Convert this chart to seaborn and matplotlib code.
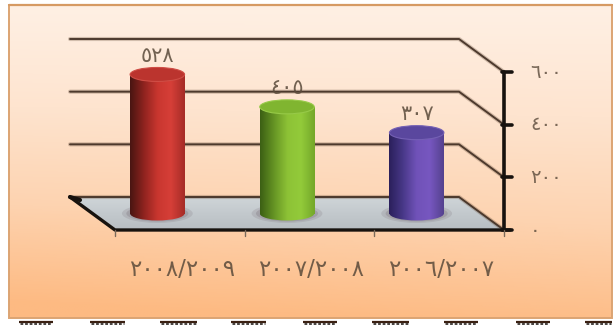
import numpy as np
import pandas as pd
import matplotlib
matplotlib.use("Agg")
import matplotlib.pyplot as plt
import seaborn as sns
from matplotlib.colors import LinearSegmentedColormap
from matplotlib.patches import Ellipse, Polygon, Rectangle

# data
seasons = ["٢٠٠٨/٢٠٠٩", "٢٠٠٧/٢٠٠٨", "٢٠٠٦/٢٠٠٧"]
values = [528, 405, 307]
value_labels = ["٥٢٨", "٤٠٥", "٣٠٧"]
y_ticks = [0, 200, 400, 600]
y_tick_labels = ["٠", "٢٠٠", "٤٠٠", "٦٠٠"]

W, H = 615, 325
TEXT = "#5a4a3a"

sns.set_theme(style="white")
plt.rcParams["font.family"] = ["DejaVu Sans"]

fig = plt.figure(figsize=(W / 100, H / 100), dpi=100, facecolor="white")


def px_axes(x0, y0, x1, y1):
    # axes from pixel box, y measured from the top of the image
    return fig.add_axes([x0 / W, 1 - y1 / H, (x1 - x0) / W, (y1 - y0) / H])


# ======================================
# Background panel
# ======================================

bg = fig.add_axes([0, 0, 1, 1], zorder=0)
bg.axis("off")

bg_cmap = LinearSegmentedColormap.from_list(
    "panel", ["#fff0e4", "#fee4cf", "#fdd3b0", "#fdba82"]
)
yy, xx = np.mgrid[0:1:120j, 0:1:200j]
bg.imshow(
    0.9 * yy + 0.1 * (1 - xx) * yy + 0.05 * np.abs(yy - 0.1),
    cmap=bg_cmap, extent=(9, 612, 318, 5), aspect="auto", vmin=0, vmax=1,
)
bg.set_xlim(0, W)
bg.set_ylim(H, 0)
bg.add_patch(Rectangle((9, 5), 603, 313, fill=False, ec="#dca473", lw=1.4))
bg.plot([9, 612], [4.5, 4.5], color="#d69a63", lw=1.6)

# torn dark marks under the panel
for x0, x1 in [(19, 53), (90, 125), (160, 197), (231, 266), (303, 337),
               (372, 409), (444, 478), (516, 550), (585, 612)]:
    bg.plot([x0, x1], [321.5, 321.5], color="#3a2012", lw=1.6,
            solid_capstyle="butt")
    bg.plot([x0 + 1, x1 - 1], [323.8, 323.8], color="#4a4542", lw=2.2,
            ls=(0, (0.9, 0.6)))

# ======================================
# Floor and back wall
# ======================================

DX, DY = 45, 33
LEFT, RIGHT = 115, 504
Y0, Y600 = 230, 72
px_per_unit = (Y0 - Y600) / 600
DARK = "#17120e"

floor_cmap = LinearSegmentedColormap.from_list("floor", ["#cfd5d8", "#b7bdc2"])
floor_img = bg.imshow(
    np.linspace(0, 1, 32)[:, None], cmap=floor_cmap, aspect="auto",
    extent=(LEFT - DX, RIGHT, Y0, Y0 - DY),
)
floor_img.set_clip_path(Polygon(
    [(LEFT - DX, Y0 - DY), (RIGHT - DX, Y0 - DY), (RIGHT, Y0), (LEFT, Y0)],
    transform=bg.transData,
))
bg.set_xlim(0, W)
bg.set_ylim(H, 0)

for tick in y_ticks:
    y = Y0 - tick * px_per_unit
    xs, ys = [LEFT - DX, RIGHT - DX, RIGHT], [y - DY, y - DY, y]
    bg.plot(xs, ys, color="#6e5440", lw=3.0, alpha=0.3)
    bg.plot(xs, ys, color="#3f2c20", lw=1.4, alpha=0.9)

# floor front edges
bg.plot([LEFT - DX, LEFT, RIGHT + 6], [Y0 - DY, Y0, Y0], color=DARK, lw=2.4)
bg.plot([LEFT - DX, LEFT - DX + 10], [Y0 - DY, Y0 - DY + 3], color=DARK, lw=3)
# value axis
bg.plot([RIGHT, RIGHT], [Y600, Y0], color=DARK, lw=2.6)
for tick, label in zip(y_ticks, y_tick_labels):
    y = Y0 - tick * px_per_unit
    bg.plot([RIGHT - 2, RIGHT + 8], [y, y], color=DARK, lw=2.6)
    bg.text(530, y, label, ha="left", va="center", fontsize=14,
            color=TEXT, alpha=0.8)
for i in range(4):
    x = LEFT + (RIGHT - LEFT) * i / 3
    bg.plot([x, x], [Y0, Y0 + 6], color="#7a6a5a", lw=1)

# ======================================
# Cylinders (seaborn bars, half way into the depth)
# ======================================

Y_FLOOR = -60  # room below zero for the round bottoms and shadows

ax = px_axes(LEFT - DX / 2, Y600 - DY / 2, RIGHT - DX / 2,
             Y0 - DY / 2 - Y_FLOOR * px_per_unit)
ax.patch.set_alpha(0)
ax.set_zorder(2)

df = pd.DataFrame({"season": seasons, "value": values})
sns.barplot(data=df, x="season", y="value", order=seasons, width=0.42,
            color="#888888", ax=ax)
ax.axis("off")

ramps = [
    ["#4a1512", "#8f231f", "#c8362f", "#d63f38", "#a62c27"],
    ["#3c6014", "#659424", "#8dc236", "#93cb3a", "#74a82a"],
    ["#2b205c", "#483888", "#7052b8", "#7757c0", "#55428f"],
]
tops = ["#bb342e", "#80b530", "#5a479e"]
edges = ["#cf4d45", "#97ca48", "#7460b4"]
ELL_H = 14 / px_per_unit

for bar, ramp, top, edge, label in zip(ax.patches, ramps, tops, edges,
                                       value_labels):
    x0, w, h = bar.get_x(), bar.get_width(), bar.get_height()
    cx = x0 + w / 2
    cmap = LinearSegmentedColormap.from_list("cyl", ramp)
    ramp_img = np.linspace(0, 1, 64)[None, :]
    # floor shadow
    ax.add_patch(Ellipse((cx, 0), w * 1.3, ELL_H * 1.35, fc="#7a6f78",
                         ec="none", alpha=0.2, zorder=1))
    ax.add_patch(Ellipse((cx, 0), w * 1.14, ELL_H * 1.15, fc="#7a6f78",
                         ec="none", alpha=0.3, zorder=1.1))
    ax.imshow(ramp_img, cmap=cmap, aspect="auto", extent=(x0, x0 + w, 0, h),
              zorder=3)
    bar.set_visible(False)
    # body: round bottom rim, the cap hides the top edge
    bottom = ax.imshow(ramp_img, cmap=cmap, aspect="auto", zorder=2.6,
                       extent=(x0, x0 + w, -ELL_H / 2, 0))
    bottom.set_clip_path(Ellipse((cx, 0), w, ELL_H, transform=ax.transData))
    ax.add_patch(Ellipse((cx, h), w, ELL_H, fc=top, ec=edge, lw=0.8,
                         zorder=4, clip_on=False))
    ax.text(cx, h + 72, label, ha="center", va="center", fontsize=15,
            color=TEXT, alpha=0.85, clip_on=False)

ax.set_xlim(-0.5, 2.5)
ax.set_ylim(Y_FLOOR, 600)
# category labels
for i, season in enumerate(seasons):
    bg.text(LEFT + (RIGHT - LEFT) * (i + 0.5) / 3 + 2, 270, season,
            ha="center", va="center", fontsize=16.5, color=TEXT, alpha=0.85)

fig.savefig("out.png", dpi=100)
